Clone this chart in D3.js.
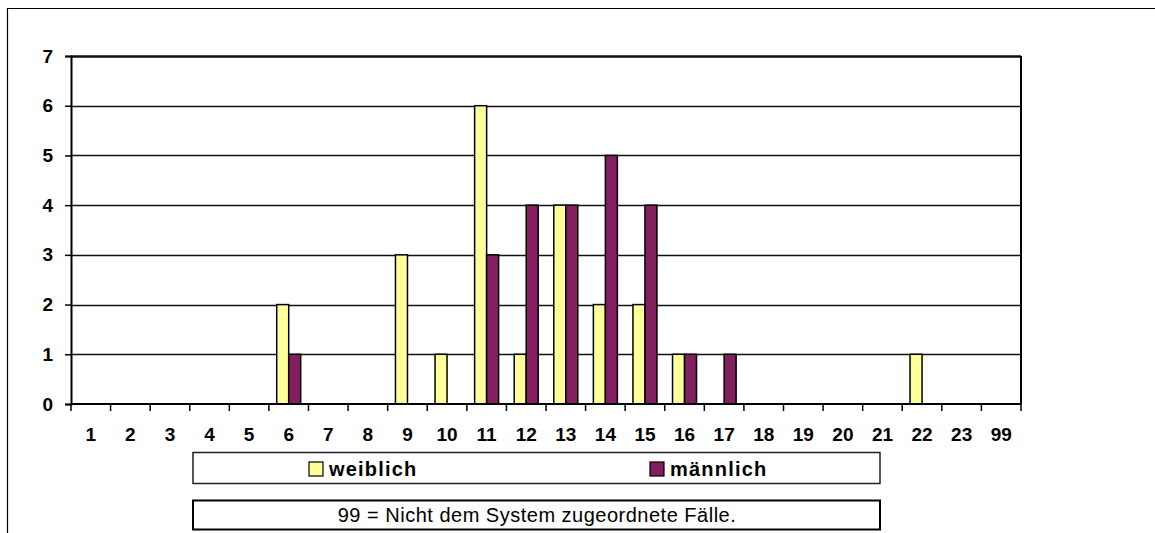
<!DOCTYPE html>
<html>
<head>
<meta charset="utf-8">
<script src="https://cdn.jsdelivr.net/npm/d3@7"></script>
<style>
  body { margin: 0; background: #fff; }
  text { font-family: Arial, "Liberation Sans", sans-serif; }
</style>
</head>
<body>
<div id="chartBox"></div>
<script>
(function () {
  'use strict';

  // categories on the x axis
  var categories = ["1", "2", "3", "4", "5", "6", "7", "8", "9", "10", "11", "12",
                    "13", "14", "15", "16", "17", "18", "19", "20", "21", "22", "23", "99"];
  // counts per category
  var weiblich = [0, 0, 0, 0, 0, 2, 0, 0, 3, 1, 6, 1, 4, 2, 2, 1, 0, 0, 0, 0, 0, 1, 0, 0];
  var maennlich = [0, 0, 0, 0, 0, 1, 0, 0, 0, 0, 3, 4, 4, 5, 4, 1, 1, 0, 0, 0, 0, 0, 0, 0];
  var seriesNames = ["weiblich", "männlich"];
  var yTicks = [0, 1, 2, 3, 4, 5, 6, 7];
  var footnote = "99 = Nicht dem System zugeordnete Fälle.";

  var colors = { "weiblich": "#FFFF99", "männlich": "#82205F" };

  var outerWidth = 1155,
      outerHeight = 533,
      plot = { left: 71, right: 1021, top: 56, bottom: 404 };

  var svg = d3.select("#chartBox").append("svg")
    .attr("width", outerWidth)
    .attr("height", outerHeight);

  // chart frame (only left and top edges visible)
  svg.append("path")
    .attr("d", "M7.5," + outerHeight + " V8.5 H" + outerWidth)
    .attr("fill", "none")
    .attr("stroke", "#000")
    .attr("stroke-width", 1.2);

  var x0 = d3.scaleBand().domain(categories).range([plot.left, plot.right]).padding(0);
  var x1 = d3.scaleBand().domain(seriesNames).range([0, x0.step()]).paddingOuter(0.65).paddingInner(0);
  var y = d3.scaleLinear().domain([0, 7]).range([plot.bottom, plot.top]);

  var data = categories.map(function (c, i) {
    return { cat: c, values: [{ key: "weiblich", v: weiblich[i] }, { key: "männlich", v: maennlich[i] }] };
  });

  // gridlines
  svg.append("g").selectAll("line")
    .data(yTicks.filter(function (t) { return t > 0; }))
    .enter().append("line")
    .attr("x1", plot.left).attr("x2", plot.right)
    .attr("y1", function (d) { return Math.round(y(d)) + 0.5; })
    .attr("y2", function (d) { return Math.round(y(d)) + 0.5; })
    .attr("stroke", "#111")
    .attr("stroke-width", function (d) { return d === 7 ? 2.5 : 1.6; });

  // right border of plot area
  svg.append("line")
    .attr("x1", plot.right).attr("x2", plot.right)
    .attr("y1", plot.top).attr("y2", plot.bottom)
    .attr("stroke", "#000").attr("stroke-width", 2);

  // bars
  var groups = svg.append("g").selectAll("g")
    .data(data)
    .enter().append("g")
    .attr("transform", function (d) { return "translate(" + x0(d.cat) + ",0)"; });

  groups.selectAll("rect")
    .data(function (d) { return d.values.filter(function (s) { return s.v > 0; }); })
    .enter().append("rect")
    .attr("x", function (d) { return x1(d.key); })
    .attr("width", x1.bandwidth())
    .attr("y", function (d) { return y(d.v); })
    .attr("height", function (d) { return y(0) - y(d.v); })
    .attr("fill", function (d) { return colors[d.key]; })
    .attr("stroke", "#000")
    .attr("stroke-width", 1.5);

  // y axis
  var yAxis = d3.axisLeft(y).tickValues(yTicks).tickSize(6).tickPadding(12).tickFormat(d3.format("d"));
  var yg = svg.append("g")
    .attr("transform", "translate(" + plot.left + ",0)")
    .call(yAxis);
  yg.select(".domain").attr("stroke", "#000").attr("stroke-width", 2);
  yg.selectAll(".tick line").attr("stroke", "#000").attr("stroke-width", 1.5);
  yg.selectAll("text")
    .attr("font-size", 19).attr("font-weight", "bold").attr("fill", "#000")
    .attr("font-family", "Arial, 'Liberation Sans', sans-serif");

  // x axis: labels centred in bands, ticks at band boundaries
  var xAxis = d3.axisBottom(x0).tickSize(0).tickPadding(24);
  var xg = svg.append("g")
    .attr("transform", "translate(0," + plot.bottom + ")")
    .call(xAxis);
  xg.select(".domain").attr("stroke", "#000").attr("stroke-width", 2)
    .attr("d", "M" + plot.left + ",0H" + plot.right);
  xg.selectAll("text")
    .attr("font-size", 19).attr("font-weight", "bold").attr("fill", "#000")
    .attr("font-family", "Arial, 'Liberation Sans', sans-serif");

  svg.append("g").selectAll("line")
    .data(d3.range(categories.length + 1))
    .enter().append("line")
    .attr("x1", function (i) { return plot.left + i * x0.step(); })
    .attr("x2", function (i) { return plot.left + i * x0.step(); })
    .attr("y1", plot.bottom).attr("y2", plot.bottom + 7)
    .attr("stroke", "#000").attr("stroke-width", 1.5);

  // legend
  var legend = svg.append("g");
  legend.append("rect")
    .attr("x", 193).attr("y", 452.5).attr("width", 687).attr("height", 31)
    .attr("fill", "#fff").attr("stroke", "#222").attr("stroke-width", 1.5);

  var legendItems = [{ key: "weiblich", x: 309 }, { key: "männlich", x: 650 }];
  legendItems.forEach(function (it) {
    legend.append("rect")
      .attr("x", it.x).attr("y", 462).attr("width", 14).attr("height", 14)
      .attr("fill", colors[it.key]).attr("stroke", "#000").attr("stroke-width", 1.2);
    legend.append("text")
      .attr("x", it.x + 20).attr("y", 476)
      .attr("font-size", 20).attr("font-weight", "bold")
      .attr("letter-spacing", 1.2)
      .text(it.key);
  });

  // footnote box
  svg.append("rect")
    .attr("x", 193).attr("y", 500.5).attr("width", 687).attr("height", 29)
    .attr("fill", "#fff").attr("stroke", "#000").attr("stroke-width", 2);
  svg.append("text")
    .attr("x", 537).attr("y", 522)
    .attr("text-anchor", "middle")
    .attr("font-size", 20)
    .attr("letter-spacing", 0.5)
    .text(footnote);
})();
</script>
</body>
</html>
